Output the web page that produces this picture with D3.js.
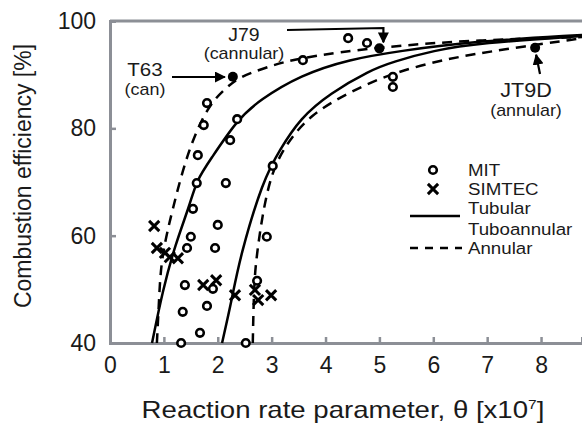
<!DOCTYPE html>
<html><head><meta charset="utf-8">
<script src="https://cdn.jsdelivr.net/npm/d3@7"></script>
<style>body{margin:0;background:#fff}svg{display:block;font-family:"Liberation Sans",Arial,sans-serif}</style>
</head><body><svg id="c" width="582" height="425"></svg>
<script>
// ---- data ----
const xTicks = [0,1,2,3,4,5,6,7,8];
const yTicks = [40,60,80,100];
const mitTheta = [1.80,1.74,2.36,2.23,1.63,1.61,2.15,3.02,1.54,2.00,1.50,1.43,1.95,1.39,1.91,1.80,1.35,1.67,1.32,2.52,2.91,2.73,3.58,4.42,4.77,5.25,5.25];
const mitEff   = [84.7,80.6,81.7,77.8,75.0,69.8,69.8,73.0,65.0,62.0,59.8,57.7,57.7,50.8,50.1,46.9,45.8,41.9,40.0,40.0,59.8,51.6,92.7,96.8,95.9,89.6,87.7];
const simTheta = [0.82,0.87,1.02,1.11,1.26,1.73,1.97,2.32,2.69,2.75,2.99];
const simEff   = [61.8,57.7,56.8,56.0,55.8,50.8,51.7,48.9,49.9,48.0,48.9];
const engineNames = ["T63","J79","JT9D"];
const engineTypes = ["(can)","(cannular)","(annular)"];
const engineTheta = [2.28,5.0,7.89];
const engineEff   = [89.6,94.9,95.0];
const tubularTheta = [0.78,0.98,1.21,1.48,1.61,1.86,2.36,2.78,3.53,4.45,5.38,6.62,8.76];
const tubularEff   = [40.0,49.9,58.3,65.7,70.4,74.1,81.6,85.3,89.9,92.9,94.4,96.1,97.4];
const tuboTheta = [2.08,2.26,2.41,2.84,3.15,3.53,4.08,4.82,5.25,6.0,6.86,8.76];
const tuboEff   = [40.0,48.0,56.0,70.4,76.0,81.9,86.5,90.8,92.4,94.5,95.9,97.2];
const annular1Theta = [0.87,0.91,0.95,1.17,1.45,1.82,2.17,2.41,2.91,3.47,5.01,6.86,8.76];
const annular1Eff   = [40.0,48.0,56.0,65.3,76.0,84.3,87.7,89.6,91.4,93.1,95.2,96.5,97.0];
const annular2Theta = [2.65,2.67,2.71,2.93,3.25,3.71,4.45,5.25,6.31,7.24,8.76];
const annular2Eff   = [40.0,49.9,56.0,70.4,76.9,82.5,86.8,90.4,93.1,94.6,96.8];
const legendLabels = ["MIT","SIMTEC","Tubular","Tuboannular","Annular"];

// ---- layout ----
const svg = d3.select("#c");
const x = d3.scaleLinear().domain([0, 8.76]).range([110, 582]);
const y = d3.scaleLinear().domain([40, 100]).range([343, 21]);
const gray = "#8c8f96";
const ink = "#1a1a1a";

// frame
svg.append("line").attr("x1",x(0)).attr("x2",582).attr("y1",y(100)).attr("y2",y(100)).attr("stroke",gray).attr("stroke-width",3);
const xa = svg.append("g").attr("transform",`translate(0,${y(40)})`)
  .call(d3.axisBottom(x).tickValues(xTicks).tickSize(-6).tickPadding(14).tickFormat(d3.format("d")));
const ya = svg.append("g").attr("transform",`translate(${x(0)},0)`)
  .call(d3.axisLeft(y).tickValues(yTicks).tickSize(-6).tickPadding(14).tickFormat(d3.format("d")));
[xa,ya].forEach(a=>{
  a.select(".domain").attr("stroke",gray).attr("stroke-width",3);
  a.selectAll(".tick line").attr("stroke",gray).attr("stroke-width",2.5);
  a.selectAll(".tick text").attr("font-size",23).attr("fill",ink).attr("font-family","Liberation Sans, Arial, sans-serif");
});
xa.selectAll(".tick line").filter(d=>d===0).remove();
ya.selectAll(".tick line").filter(d=>d===40||d===100).remove();

// axis titles
svg.append("g").attr("transform","translate(343,418) scale(1.2,1)")
  .append("text").attr("text-anchor","middle").attr("font-size",23).attr("fill",ink)
  .html('Reaction rate parameter, θ [x10<tspan dy="-9" font-size="13">7</tspan><tspan dy="9">]</tspan>');
svg.append("text").attr("transform","translate(31,176) rotate(-90)").attr("text-anchor","middle").attr("font-size",23).attr("fill",ink)
  .text("Combustion efficiency [%]");

// curves
const line = d3.line().x(d=>x(d[0])).y(d=>y(d[1])).curve(d3.curveBasis);
const curves = [
  [tubularTheta, tubularEff, null],
  [tuboTheta, tuboEff, null],
  [annular1Theta, annular1Eff, "10,7"],
  [annular2Theta, annular2Eff, "10,7"]
];
curves.forEach(([t,e,dash])=>{
  svg.append("path").datum(t.map((v,i)=>[v,e[i]])).attr("d",line)
    .attr("fill","none").attr("stroke","#000").attr("stroke-width",2.5)
    .attr("stroke-dasharray",dash);
});

// MIT circles
svg.append("g").selectAll("circle").data(mitTheta.map((v,i)=>[v,mitEff[i]])).join("circle")
  .attr("cx",d=>x(d[0])).attr("cy",d=>y(d[1])).attr("r",3.8)
  .attr("fill","#fff").attr("stroke","#000").attr("stroke-width",2.6);
// SIMTEC crosses
const cross = d3.symbol().type(d3.symbolTimes).size(70);
svg.append("g").selectAll("path").data(simTheta.map((v,i)=>[v,simEff[i]])).join("path")
  .attr("d",cross).attr("transform",d=>`translate(${x(d[0])},${y(d[1])})`)
  .attr("fill","none").attr("stroke","#000").attr("stroke-width",3);
// engines
svg.append("g").selectAll("circle").data(engineTheta.map((v,i)=>[v,engineEff[i]])).join("circle")
  .attr("cx",d=>x(d[0])).attr("cy",d=>y(d[1])).attr("r",5).attr("fill","#000");

// annotations
const defs = svg.append("defs");
defs.append("marker").attr("id","ah").attr("viewBox","0 0 10 10").attr("refX",9).attr("refY",5)
  .attr("markerWidth",5).attr("markerHeight",5).attr("orient","auto-start-reverse")
  .append("path").attr("d","M0,0L10,5L0,10z").attr("fill","#000");
function ann(xp, yp, dy, name, type, fs1, fs2){
  svg.append("g").attr("transform",`translate(${xp},${yp}) scale(1.08,1)`)
    .append("text").attr("text-anchor","middle").attr("font-size",fs1).attr("fill",ink).text(name);
  svg.append("g").attr("transform",`translate(${xp},${yp+dy}) scale(1.12,1)`)
    .append("text").attr("text-anchor","middle").attr("font-size",fs2).attr("fill",ink).text(type);
}
ann(145,76,19,engineNames[0],engineTypes[0],19,16);
ann(244,41,18,engineNames[1],engineTypes[1],18,16);
ann(526,97,19,engineNames[2],engineTypes[2],20,16);
svg.append("line").attr("x1",172).attr("y1",77).attr("x2",x(engineTheta[0])-8).attr("y2",77)
  .attr("stroke","#000").attr("stroke-width",2.2).attr("marker-end","url(#ah)");
svg.append("path").attr("d",`M287,30 L${x(engineTheta[1])+4},28 L${x(engineTheta[1])+4},${y(engineEff[1])-6}`)
  .attr("fill","none").attr("stroke","#000").attr("stroke-width",2.2).attr("marker-end","url(#ah)");
svg.append("line").attr("x1",540).attr("y1",74).attr("x2",x(engineTheta[2])+1).attr("y2",y(engineEff[2])+7)
  .attr("stroke","#000").attr("stroke-width",2.2).attr("marker-end","url(#ah)");

// legend
const lg = svg.append("g").attr("font-size",17).attr("fill",ink);
lg.append("circle").attr("cx",433).attr("cy",170).attr("r",3.8).attr("fill","#fff").attr("stroke","#000").attr("stroke-width",2.6);
lg.append("path").attr("d",cross).attr("transform","translate(433,189)").attr("fill","none").attr("stroke","#000").attr("stroke-width",3);
lg.append("line").attr("x1",410).attr("x2",460).attr("y1",216).attr("y2",216).attr("stroke","#000").attr("stroke-width",2.5);
lg.append("line").attr("x1",410).attr("x2",462).attr("y1",248).attr("y2",248).attr("stroke","#000").attr("stroke-width",2.5).attr("stroke-dasharray","8,7");
const ly = [176,195,214,235,254];
legendLabels.forEach((t,i)=>lg.append("g").attr("transform",`translate(468,${ly[i]}) scale(1.1,1)`).append("text").text(t));
</script></body></html>
